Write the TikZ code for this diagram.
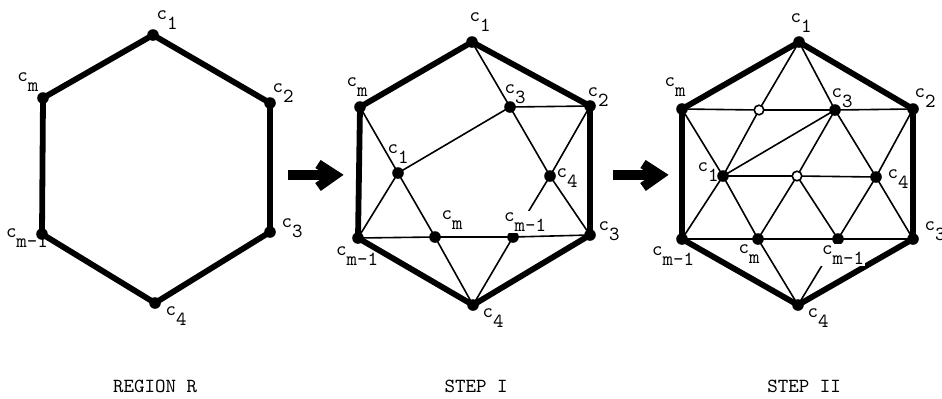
\documentclass[tikz,border=0pt]{standalone}
\usepackage{fontspec}
\newcommand{\csub}[1]{c\raisebox{-0.5em}{#1}}
\tikzset{
  bord/.style={line width=2.9pt, line join=round, line cap=round},
  thin/.style={line width=0.8pt},
  dot/.style={circle, fill=black, inner sep=0pt, minimum size=5.8pt},
  odot/.style={circle, fill=white, draw=black, line width=0.8pt, inner sep=0pt, minimum size=4.8pt},
  lbl/.style={font=\ttfamily\fontsize{10}{10}\selectfont, inner sep=0pt},
  blbl/.style={lbl, fill=white, inner sep=0.6pt},
  captext/.style={font=\ttfamily\fontsize{10}{10}\selectfont, inner sep=0pt},
  fatarrow/.style={line width=5.2pt}
}
\begin{document}
\begin{tikzpicture}[x=0.5pt,y=-0.5pt]
\useasboundingbox (0,0) rectangle (942,398);
% ---------------- Region R ----------------
\coordinate (Ac1) at (153,35);
\coordinate (Ac2) at (270,103);
\coordinate (Ac3) at (270,232);
\coordinate (Ac4) at (155,303);
\coordinate (Acm1) at (42,234);
\coordinate (Acm) at (43,98);
\draw[bord] (Ac1) -- (Ac2) -- (Ac3) -- (Ac4) -- (Acm1) -- (Acm) -- cycle;
\foreach \p in {Ac1,Ac2,Ac3,Ac4,Acm1,Acm} \node[dot] at (\p) {};
\node[lbl] (lAc1) at (167,20) {\csub{1}};
\node[lbl] (lAc2) at (283,93) {\csub{2}};
\node[lbl] (lAc3) at (292,228) {\csub{3}};
\node[lbl] (lAc4) at (176,316) {\csub{4}};
\node[lbl] (lAcm1) at (27,238) {\csub{m-1}};
\node[lbl] (lAcm) at (28,82) {\csub{m}};
% arrow 1
\coordinate (r1s) at (288,175);
\coordinate (r1e) at (332,175);
\draw[fatarrow] (r1s) -- (r1e);
\coordinate (h1a) at (318,164);
\coordinate (h1b) at (335,175);
\coordinate (h1c) at (318,187);
\draw[line width=4.8pt, line join=miter] (h1a) -- (h1b) -- (h1c);
% ---------------- Step I ----------------
\coordinate (Bc1) at (472,42);
\coordinate (Bc2) at (590,106);
\coordinate (Bc3) at (590,235);
\coordinate (Bc4) at (473,305);
\coordinate (Bcm1) at (358,238);
\coordinate (Bcm) at (360,107);
\coordinate (Bi3) at (510,107);
\coordinate (Bi1) at (398,173);
\coordinate (Bi4) at (550,176);
\coordinate (Bim) at (435,237);
\coordinate (Bim1) at (513,237);
\draw[thin] (Bc1) -- (Bi3) -- (Bi4) -- (Bc3);
\draw[thin] (Bi3) -- (Bc2);
\draw[thin] (Bi3) -- (Bi1);
\draw[thin] (Bcm) -- (Bi1) -- (Bim) -- (Bc4);
\draw[thin] (Bcm1) -- (Bi1);
\draw[thin] (Bcm1) -- (Bim) -- (Bim1) -- (Bc3);
\draw[thin] (Bim1) -- (Bc4);
\draw[thin] (Bc2) -- (Bi4) -- (Bim1);
\draw[bord] (Bc1) -- (Bc2) -- (Bc3) -- (Bc4) -- (Bcm1) -- (Bcm) -- cycle;
\foreach \p in {Bc1,Bc2,Bc3,Bc4,Bcm1,Bcm,Bi3,Bi1,Bi4,Bim,Bim1} \node[dot] at (\p) {};
\node[lbl] (lBc1) at (480,22) {\csub{1}};
\node[lbl] (lBc2) at (598,97) {\csub{2}};
\node[lbl] (lBc3) at (609,231) {\csub{3}};
\node[lbl] (lBc4) at (493,318) {\csub{4}};
\node[lbl] (lBcm1) at (357,256) {\csub{m-1}};
\node[lbl] (lBcm) at (357,87) {\csub{m}};
\node[lbl] (lBi3) at (515,94) {\csub{3}};
\node[lbl] (lBi1) at (398,154) {\csub{1}};
\node[lbl] (lBi4) at (567,178) {\csub{4}};
\node[lbl] (lBim) at (452,220) {\csub{m}};
\node[blbl] (lBim1) at (525,222) {\csub{m-1}};
% arrow 2
\coordinate (r2s) at (613,175);
\coordinate (r2e) at (657,175);
\draw[fatarrow] (r2s) -- (r2e);
\coordinate (h2a) at (643,164);
\coordinate (h2b) at (660,175);
\coordinate (h2c) at (643,187);
\draw[line width=4.8pt, line join=miter] (h2a) -- (h2b) -- (h2c);
% ---------------- Step II ----------------
\coordinate (Cc1) at (799,42);
\coordinate (Cc2) at (913,109);
\coordinate (Cc3) at (913,239);
\coordinate (Cc4) at (798,305);
\coordinate (Ccm1) at (682,239);
\coordinate (Ccm) at (682,109);
\coordinate (Co1) at (759,110);
\coordinate (Ci3) at (835,110);
\coordinate (Ci1) at (723,176);
\coordinate (Co2) at (797,176);
\coordinate (Ci4) at (876,177);
\coordinate (Cim) at (758,239);
\coordinate (Cim1) at (838,239);
\draw[thin] (Ccm) -- (Co1) -- (Ci3) -- (Cc2);
\draw[thin] (Ci1) -- (Co2) -- (Ci4);
\draw[thin] (Ccm1) -- (Cim) -- (Cim1) -- (Cc3);
\draw[thin] (Cc1) -- (Co1) -- (Ci1) -- (Ccm1);
\draw[thin] (Cc1) -- (Ci3) -- (Ci4) -- (Cc3);
\draw[thin] (Ccm) -- (Ci1) -- (Cim) -- (Cc4);
\draw[thin] (Cc2) -- (Ci4) -- (Cim1) -- (Cc4);
\draw[thin] (Ci3) -- (Co2) -- (Cim);
\draw[thin] (Co2) -- (Cim1);
\draw[thin] (Ci1) -- (Ci3);
\draw[bord] (Cc1) -- (Cc2) -- (Cc3) -- (Cc4) -- (Ccm1) -- (Ccm) -- cycle;
\foreach \p in {Cc1,Cc2,Cc3,Cc4,Ccm1,Ccm,Ci3,Ci1,Ci4,Cim,Cim1} \node[dot] at (\p) {};
\node[odot] at (Co1) {};
\node[odot] at (Co2) {};
\node[lbl] (lCc1) at (801,23) {\csub{1}};
\node[lbl] (lCc2) at (925,98) {\csub{2}};
\node[lbl] (lCc3) at (935,231) {\csub{3}};
\node[lbl] (lCc4) at (818,318) {\csub{4}};
\node[lbl] (lCcm1) at (673,256) {\csub{m-1}};
\node[lbl] (lCcm) at (675,87) {\csub{m}};
\node[lbl] (lCi3) at (842,98) {\csub{3}};
\node[lbl] (lCi1) at (708,172) {\csub{1}};
\node[lbl] (lCi4) at (898,179) {\csub{4}};
\node[lbl] (lCim) at (749,254) {\csub{m}};
\node[blbl] (lCim1) at (843,255) {\csub{m-1}};
% captions
\node[captext] (t1) at (155,386) {REGION R};
\node[captext] (t2) at (476,386) {STEP I};
\node[captext] (t3) at (804,386) {STEP II};
\end{tikzpicture}
\end{document}
